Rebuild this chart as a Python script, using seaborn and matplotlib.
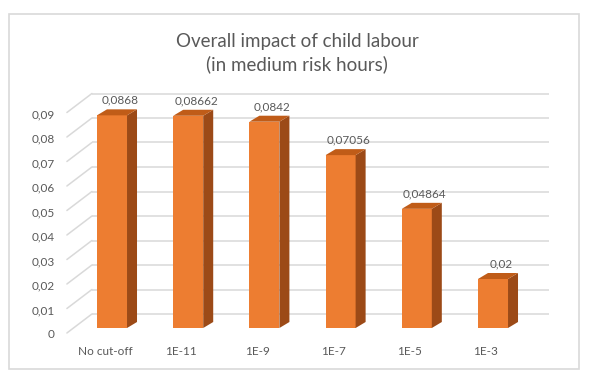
import matplotlib
matplotlib.use('Agg')

import numpy as np
import pandas as pd
import matplotlib.pyplot as plt
import seaborn as sns
from matplotlib.patches import Polygon, Rectangle
from matplotlib.lines import Line2D
from matplotlib.transforms import ScaledTranslation, IdentityTransform

sns.set_style('white')
plt.rcParams['font.family'] = ['Lato', 'DejaVu Sans']

# ---- 数据 ----
categories = ['No cut-off', '1E-11', '1E-9', '1E-7', '1E-5', '1E-3']
impact = [0.0868, 0.08662, 0.0842, 0.07056, 0.04864, 0.02]
value_labels = ['0,0868', '0,08662', '0,0842', '0,07056', '0,04864', '0,02']
y_ticks = [0, 0.01, 0.02, 0.03, 0.04, 0.05, 0.06, 0.07, 0.08, 0.09]
y_tick_labels = ['0', '0,01', '0,02', '0,03', '0,04', '0,05', '0,06', '0,07', '0,08', '0,09']

FRONT = '#ED7D31'
SIDE = '#9C4A17'
TOP = '#C05C18'
GRID = '#D9D9D9'
TXT = '#595959'

W, H = 600, 383
fig = plt.figure(figsize=(W / 100, H / 100), dpi=100)

# 图表外框
fig.add_artist(Rectangle((9 / W, 1 - 369 / H), 570 / W, 355 / H,
                         transform=fig.transFigure, facecolor='white',
                         edgecolor=GRID, linewidth=1.2, zorder=-5))

# 前面板坐标轴（像素位置换算）
ax = fig.add_axes([73.9 / W, 55 / H, 457.2 / W, 220.5 / H])
ax.set_facecolor('none')

df = pd.DataFrame({'cutoff': categories, 'impact': impact})
sns.barplot(data=df, x='cutoff', y='impact', color=FRONT, width=0.394,
            saturation=1, linewidth=0, edgecolor='none', ax=ax, zorder=3)
ax.set_xlim(-0.5, 5.5)
ax.set_ylim(0, 0.09)
for s in ax.spines.values():
    s.set_visible(False)
ax.set_xlabel('')
ax.set_ylabel('')

px = 1 / 100  # 1 像素 = 0.01 英寸
back = ScaledTranslation(18 * px, 14 * px, fig.dpi_scale_trans)

# 后墙网格线
ax.hlines(y_ticks, -0.5, 5.5, colors=GRID, linewidth=1.1,
          transform=ax.transData + back, zorder=0, clip_on=False)

# 左侧斜线（地面/侧墙透视）
fig.canvas.draw()
for v in y_ticks:
    x0, y0 = ax.transData.transform((-0.5, v))
    ln = Line2D([x0 - 7, x0 + 18], [y0 - 5, y0 + 14], color=GRID,
                linewidth=1.1, transform=IdentityTransform(), zorder=0)
    fig.add_artist(ln)

# 柱子的侧面与顶面
dx, dy = 10, 6
for p in ax.patches:
    (xl, yb), (xr, yt) = ax.transData.transform(
        [(p.get_x(), 0), (p.get_x() + p.get_width(), p.get_height())])
    side = Polygon([(xr, yb), (xr + dx, yb + dy), (xr + dx, yt + dy), (xr, yt)],
                   closed=True, facecolor=SIDE, edgecolor='none',
                   transform=IdentityTransform(), zorder=4)
    top = Polygon([(xl, yt), (xr, yt), (xr + dx, yt + dy), (xl + dx, yt + dy)],
                  closed=True, facecolor=TOP, edgecolor='none',
                  transform=IdentityTransform(), zorder=4)
    fig.add_artist(side)
    fig.add_artist(top)

# 数值标签
for i, (v, lab) in enumerate(zip(impact, value_labels)):
    ax.annotate(lab, (i, v), xytext=(8, 15), textcoords='offset pixels',
                ha='center', va='center', fontsize=8.5, color=TXT,
                annotation_clip=False)

# 坐标轴刻度标签
ax.set_yticks(y_ticks)
ax.set_yticklabels(y_tick_labels)
ax.tick_params(axis='y', length=0, pad=14, labelsize=8.5, labelcolor=TXT)
ax.tick_params(axis='x', length=0, pad=13, labelsize=8.5, labelcolor=TXT)
down = ScaledTranslation(0, -6 * px, fig.dpi_scale_trans)
for t in ax.get_yticklabels():
    t.set_transform(t.get_transform() + down)
left = ScaledTranslation(-7 * px, 0, fig.dpi_scale_trans)
for t in ax.get_xticklabels():
    t.set_transform(t.get_transform() + left)

fig.text(297 / W, 1 - 53 / H, 'Overall impact of child labour\n(in medium risk hours)',
         ha='center', va='center', fontsize=13.5, color=TXT, linespacing=1.35)

fig.savefig('out.png', dpi=100)
